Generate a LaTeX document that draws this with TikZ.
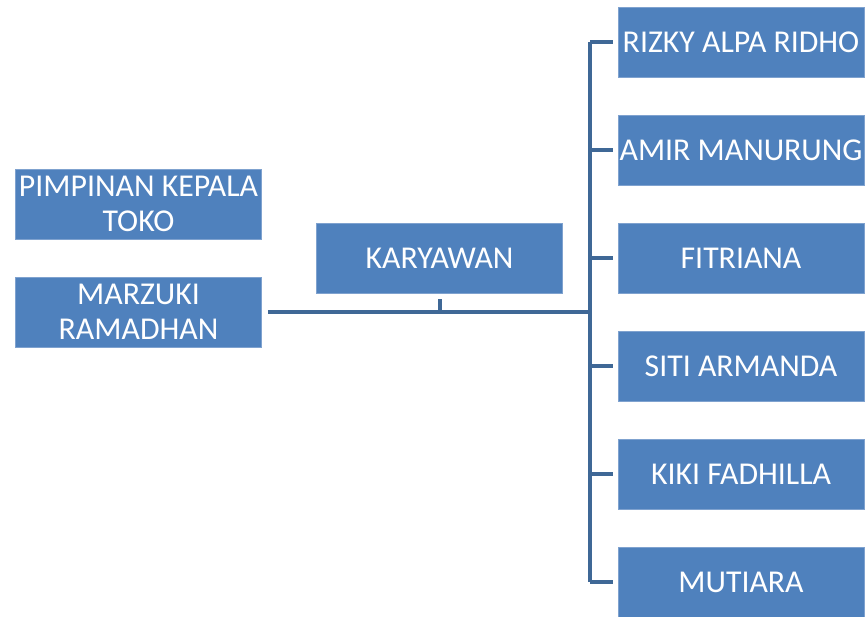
\documentclass[tikz,border=0pt]{standalone}
\usepackage{fontspec}
\setmainfont{Carlito}
\definecolor{boxfill}{HTML}{4F81BD}
\definecolor{boxedge}{HTML}{7FA2CF}
\definecolor{linec}{HTML}{3F6896}
\begin{document}
\begin{tikzpicture}[x=1pt,y=-1pt,
  pbox/.style={draw=boxedge,line width=0.8pt,fill=boxfill,text=white,inner sep=0pt,
    minimum width=246pt,minimum height=70pt,font=\fontsize{31.8}{35.5}\selectfont,align=center},
  conn/.style={draw=linec,line width=4pt}]
\useasboundingbox (0,0) rectangle (867,617);
\node[pbox] (pim) at (138.5,204) {PIMPINAN KEPALA\\TOKO};
\node[pbox] (mar) at (138.5,312) {MARZUKI\\RAMADHAN};
\node[pbox] (kar) at (439.5,258) {KARYAWAN};
\node[pbox] (r1) at (741,42) {RIZKY ALPA RIDHO};
\node[pbox] (r2) at (741,150) {AMIR MANURUNG};
\node[pbox] (r3) at (741,258) {FITRIANA};
\node[pbox] (r4) at (741,366) {SITI ARMANDA};
\node[pbox] (r5) at (741,474) {KIKI FADHILLA};
\node[pbox] (r6) at (741,582) {MUTIARA};
\coordinate (bus) at (590,312);
\coordinate (top) at (590,42);
\coordinate (bot) at (590,582);
\draw[conn] ([xshift=6pt]mar.east) -- (bus);
\draw[conn] ([yshift=-6pt]kar.south) -- (kar.south |- bus);
\draw[conn] (top) -- (bot);
\foreach \n in {r1,r2,r3,r4,r5,r6}
  \draw[conn] (top |- \n.west) -- ([xshift=-5pt]\n.west);
\end{tikzpicture}
\end{document}
